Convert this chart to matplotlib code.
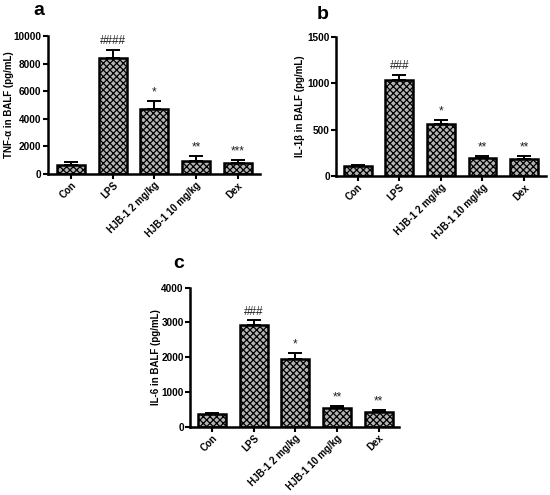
import matplotlib
matplotlib.use("Agg")
import matplotlib.pyplot as plt

plt.rcParams['font.family'] = ['Liberation Sans', 'DejaVu Sans']
plt.rcParams['hatch.color'] = '#3c3c3c'
plt.rcParams['hatch.linewidth'] = 0.9

categories = ["Con", "LPS", "HJB-1 2 mg/kg", "HJB-1 10 mg/kg", "Dex"]

tnf_mean = [650, 8400, 4690, 940, 770]
tnf_err = [220, 630, 625, 390, 245]
tnf_marks = ["", "####", "*", "**", "***"]

il1b_mean = [108, 1038, 560, 195, 181]
il1b_err = [11, 58, 44, 22, 32]
il1b_marks = ["", "###", "*", "**", "**"]

il6_mean = [364, 2924, 1937, 537, 412]
il6_err = [39, 134, 172, 48, 77]
il6_marks = ["", "###", "*", "**", "**"]

panels = [
    dict(rect=[0.0867, 0.6485, 0.3863, 0.2785], mean=tnf_mean, err=tnf_err, marks=tnf_marks,
         ymax=10000, step=2000, ylabel="TNF-α in BALF (pg/mL)", letter="a", lpos=(0.060, 0.978),
         xlim=(-0.56, 4.54), labx=-0.182),
    dict(rect=[0.611, 0.6444, 0.3826, 0.2806], mean=il1b_mean, err=il1b_err, marks=il1b_marks,
         ymax=1500, step=500, ylabel="IL-1β in BALF (pg/mL)", letter="b", lpos=(0.575, 0.970),
         xlim=(-0.52, 4.54), labx=-0.171),
    dict(rect=[0.3455, 0.138, 0.38, 0.281], mean=il6_mean, err=il6_err, marks=il6_marks,
         ymax=4000, step=1000, ylabel="IL-6 in BALF (pg/mL)", letter="c", lpos=(0.315, 0.467),
         xlim=(-0.53, 4.49), labx=-0.163),
]

fig = plt.figure(figsize=(5.5, 4.95), dpi=100)

for p in panels:
    ax = fig.add_axes(p["rect"])
    x = list(range(len(categories)))
    ax.bar(x, p["mean"], width=0.67, color='#b4b4b4', edgecolor='black', linewidth=1.8,
           hatch='xxxxx', zorder=2)
    ax.errorbar(x, p["mean"], yerr=[[0]*5, p["err"]], fmt='none', ecolor='black',
                elinewidth=1.4, capsize=5, capthick=1.4, zorder=1)
    for xi, m, e, t in zip(x, p["mean"], p["err"], p["marks"]):
        if t:
            ax.text(xi, m + e + p["ymax"] * 0.018, t, ha='center', va='bottom',
                    fontsize=8.5, color='#222222')
    ax.set_xlim(*p["xlim"])
    ax.set_ylim(0, p["ymax"])
    ax.set_yticks(list(range(0, p["ymax"] + 1, p["step"])))
    ax.set_xticks(x)
    ax.set_xticklabels(categories, rotation=45, ha='right', rotation_mode='anchor',
                       fontsize=7, fontweight='bold')
    for lab in ax.get_yticklabels():
        lab.set_fontweight('bold')
        lab.set_fontsize(7.2)
    ax.set_ylabel(p["ylabel"], fontsize=7, fontweight='bold', va='center')
    ax.yaxis.set_label_coords(p["labx"], 0.5)
    ax.spines['top'].set_visible(False)
    ax.spines['right'].set_visible(False)
    ax.spines['left'].set_linewidth(1.8)
    ax.spines['bottom'].set_linewidth(1.8)
    ax.tick_params(axis='both', width=1.5, length=3.5, pad=1)
    fig.text(p["lpos"][0], p["lpos"][1], p["letter"], fontsize=14, fontweight='bold',
             ha='left', va='center')

fig.savefig("out.png", dpi=100)
